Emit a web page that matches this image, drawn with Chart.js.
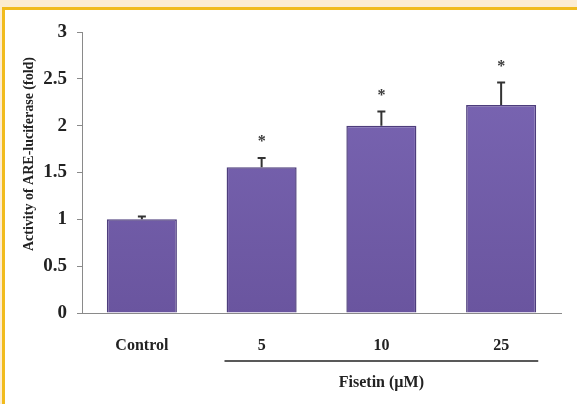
<!DOCTYPE html>
<html>
<head>
<meta charset="utf-8">
<script src="https://cdn.jsdelivr.net/npm/chart.js@4"></script>
<style>
  html, body { margin: 0; padding: 0; }
  body { width: 577px; height: 404px; background: #fcecd1; position: relative; overflow: hidden; }
  #frame { position: absolute; left: 2px; top: 7px; right: 0; bottom: 0; border-top: 3px solid #f1bb1d; border-left: 3px solid #f1bb1d; background: #fff; }
  #wrap { position: absolute; left: 0; top: 0; width: 577px; height: 404px; }
</style>
</head>
<body>
<div id="frame"></div>
<div id="wrap"><canvas id="are-chart"></canvas></div>
<script>
/* ======== DATA ======== */
const categories = ["Control", "5", "10", "25"]
const activity = [1.0, 1.555, 2.0, 2.22]
const errors = [0.03, 0.1, 0.15, 0.24]
const significant = [false, true, true, true]
const yTicks = [0, 0.5, 1, 1.5, 2, 2.5, 3]
const yTitle = "Activity of ARE-luciferase (fold)"
const groupTitle = "Fisetin (\u00b5M)"

const serif = "'Liberation Serif', 'Times New Roman', serif"

/* error bars, stars, y title and the fisetin bracket */
const extrasPlugin = {
    id: 'extras',
    afterDatasetsDraw(chart) {
        const ctx = chart.ctx
        const x = chart.scales.x
        const y = chart.scales.y
        ctx.save()
        activity.forEach((v, i) => {
            const cx = x.getPixelForValue(i)
            const top = y.getPixelForValue(v + errors[i])
            const base = y.getPixelForValue(v)
            ctx.strokeStyle = "#333"
            ctx.lineWidth = 2
            ctx.beginPath()
            ctx.moveTo(cx, base)
            ctx.lineTo(cx, top)
            ctx.moveTo(cx - 4, top)
            ctx.lineTo(cx + 4, top)
            ctx.stroke()
            if (significant[i]) {
                ctx.fillStyle = "#3a3a3a"
                ctx.font = "bold 16px " + serif
                ctx.textAlign = "center"
                ctx.textBaseline = "middle"
                ctx.fillText("*", cx, top - 16)
            }
        })

        // bracket under the fisetin doses
        const step = x.getPixelForValue(1) - x.getPixelForValue(0)
        const x1 = x.getPixelForValue(1) - step * 0.31
        const x2 = x.getPixelForValue(3) + step * 0.31
        ctx.strokeStyle = "#222"
        ctx.lineWidth = 1.6
        ctx.beginPath()
        ctx.moveTo(x1, 361)
        ctx.lineTo(x2, 361)
        ctx.stroke()
        ctx.fillStyle = "#222"
        ctx.font = "bold 16px " + serif
        ctx.textAlign = "center"
        ctx.textBaseline = "middle"
        ctx.fillText(groupTitle, x.getPixelForValue(2), 383)

        // y axis title
        ctx.translate(29, 154)
        ctx.rotate(-Math.PI / 2)
        ctx.font = "bold 14px " + serif
        ctx.fillText(yTitle, 0, 0)
        ctx.restore()
    }
}

function barFill(context) {
    const chart = context.chart
    const area = chart.chartArea
    if (!area) return "#7460ad"
    const g = chart.ctx.createLinearGradient(0, area.top, 0, area.bottom)
    g.addColorStop(0, "#7c68b6")
    g.addColorStop(1, "#6a559f")
    return g
}

/* ======== INITIALIZE CHART ======== */
const ctxAre = document.getElementById("are-chart").getContext("2d");
const areChart = new Chart(ctxAre, {
    type: 'bar',
    data: {
        labels: categories,
        datasets: [{
            data: activity,
            backgroundColor: barFill,
            borderColor: "#4d3d7c",
            borderWidth: 1.5,
            barPercentage: 0.585,
            categoryPercentage: 1.0
        }]
    },
    options: {
        responsive: true,
        maintainAspectRatio: false,
        animation: false,
        layout: {
            padding: { left: 0, right: 16, top: 32, bottom: 0 }
        },
        plugins: {
            legend: { display: false },
            tooltip: { enabled: false }
        },
        scales: {
            x: {
                grid: { display: false },
                border: { display: true, color: "#8a8a8a", width: 1 },
                ticks: {
                    color: "#222",
                    padding: 15,
                    font: { family: serif, size: 16, weight: 'bold' }
                },
                afterFit(scale) { scale.height = 91 }
            },
            y: {
                min: 0,
                max: 3,
                afterBuildTicks(scale) { scale.ticks = yTicks.map(v => ({ value: v })) },
                grid: { drawOnChartArea: false, tickLength: 5, color: "#8a8a8a" },
                border: { display: true, color: "#8a8a8a", width: 1 },
                ticks: {
                    color: "#222",
                    padding: 10,
                    font: { family: serif, size: 19, weight: 'bold' },
                    callback: (v) => String(v)
                },
                afterFit(scale) { scale.width = 82 }
            }
        }
    },
    plugins: [extrasPlugin]
});
</script>
</body>
</html>
